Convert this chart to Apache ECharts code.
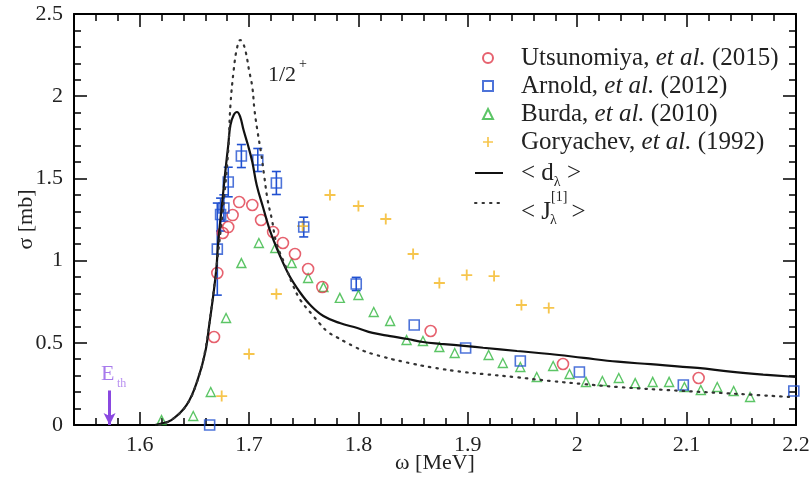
<!DOCTYPE html>
<html>
<head>
<meta charset="utf-8">
<script src="https://cdn.jsdelivr.net/npm/echarts@6/dist/echarts.min.js"></script>
<style>html,body{margin:0;padding:0;background:#fff;}#c{width:811px;height:480px;}</style>
</head>
<body>
<div id="c"></div>
<script>
// ---- data ----
var xTicks = [1.6, 1.7, 1.8, 1.9, 2.0, 2.1, 2.2];
var yTicks = [0, 0.5, 1, 1.5, 2, 2.5];

var utsX = [1.668, 1.671, 1.676, 1.681, 1.685, 1.691, 1.703, 1.711, 1.722, 1.731, 1.742, 1.754, 1.767, 1.866, 1.987, 2.111];
var utsY = [0.535, 0.925, 1.168, 1.204, 1.277, 1.356, 1.338, 1.247, 1.174, 1.107, 1.040, 0.949, 0.839, 0.572, 0.371, 0.286];

var arnX = [1.664, 1.671, 1.674, 1.677, 1.681, 1.693, 1.708, 1.725, 1.750, 1.798, 1.851, 1.898, 1.948, 2.002, 2.097, 2.198];
var arnY = [0.0, 1.07, 1.28, 1.32, 1.478, 1.636, 1.612, 1.472, 1.204, 0.858, 0.608, 0.468, 0.389, 0.322, 0.243, 0.207];
var arnErr = [0.0, 0.28, 0.1, 0.08, 0.09, 0.07, 0.07, 0.07, 0.06, 0.04, 0.0, 0.0, 0.0, 0.0, 0.0, 0.0];

var burX = [1.620, 1.649, 1.665, 1.679, 1.693, 1.709, 1.724, 1.739, 1.754, 1.768, 1.783, 1.800, 1.814, 1.829, 1.844, 1.859, 1.874, 1.888, 1.919, 1.932, 1.948, 1.963, 1.978, 1.993, 2.008, 2.023, 2.038, 2.053, 2.069, 2.084, 2.098, 2.113, 2.128, 2.143, 2.158];
var burY = [0.030, 0.055, 0.201, 0.651, 0.985, 1.107, 1.077, 0.985, 0.894, 0.839, 0.773, 0.791, 0.687, 0.633, 0.517, 0.511, 0.474, 0.438, 0.426, 0.377, 0.353, 0.292, 0.359, 0.310, 0.262, 0.268, 0.286, 0.255, 0.262, 0.262, 0.231, 0.213, 0.231, 0.207, 0.170];

var gorX = [1.675, 1.700, 1.725, 1.749, 1.774, 1.800, 1.825, 1.850, 1.874, 1.899, 1.924, 1.949, 1.974];
var gorY = [0.176, 0.432, 0.797, 1.210, 1.399, 1.332, 1.253, 1.040, 0.864, 0.912, 0.906, 0.730, 0.712];

var dX = [1.614, 1.618, 1.629, 1.643, 1.653, 1.660, 1.664, 1.667, 1.670, 1.672, 1.675, 1.678, 1.681, 1.683, 1.686, 1.689, 1.692, 1.695, 1.699, 1.703, 1.707, 1.713, 1.719, 1.728, 1.737, 1.747, 1.756, 1.768, 1.783, 1.799, 1.813, 1.829, 1.845, 1.859, 1.875, 1.899, 1.914, 1.945, 1.975, 2.006, 2.037, 2.067, 2.110, 2.140, 2.170, 2.200];
var dY = [0.0, 0.006, 0.030, 0.122, 0.274, 0.444, 0.627, 0.773, 0.943, 1.125, 1.320, 1.521, 1.703, 1.825, 1.886, 1.904, 1.873, 1.794, 1.703, 1.600, 1.460, 1.320, 1.186, 1.034, 0.906, 0.803, 0.730, 0.663, 0.620, 0.590, 0.560, 0.541, 0.523, 0.505, 0.494, 0.480, 0.470, 0.450, 0.432, 0.408, 0.385, 0.370, 0.347, 0.325, 0.307, 0.292];

var jX = [1.618, 1.629, 1.643, 1.653, 1.660, 1.666, 1.671, 1.677, 1.681, 1.683, 1.686, 1.689, 1.692, 1.694, 1.697, 1.700, 1.703, 1.705, 1.708, 1.711, 1.714, 1.717, 1.721, 1.725, 1.733, 1.740, 1.747, 1.758, 1.765, 1.772, 1.780, 1.788, 1.797, 1.805, 1.813, 1.823, 1.832, 1.841, 1.850, 1.859, 1.868, 1.877, 1.887, 1.896, 1.914, 1.945, 1.975, 2.006, 2.037, 2.097, 2.147, 2.195];
var jY = [0.0, 0.030, 0.122, 0.274, 0.456, 0.730, 1.004, 1.369, 1.673, 1.946, 2.159, 2.293, 2.342, 2.330, 2.269, 2.159, 2.056, 1.916, 1.776, 1.655, 1.509, 1.369, 1.247, 1.107, 0.973, 0.852, 0.760, 0.669, 0.614, 0.566, 0.535, 0.505, 0.474, 0.450, 0.432, 0.414, 0.398, 0.385, 0.372, 0.360, 0.349, 0.340, 0.330, 0.322, 0.310, 0.290, 0.268, 0.249, 0.231, 0.207, 0.189, 0.170];

var ethX = 1.5725;
var ethArrow = [0.21, 0.0];

var legNames = ['Utsunomiya', 'Arnold', 'Burda', 'Goryachev'];
var legYears = ['(2015)', '(2012)', '(2010)', '(1992)'];

// ---- build ----
function zip(a, b, c) { return a.map(function (v, i) { return c ? [v, b[i], c[i]] : [v, b[i]]; }); }
var FONT = "'Liberation Serif','DejaVu Serif',serif";
var RED = '#e03a4a', BLUE = '#2050d0', GREEN = '#33b640', GOLD = '#f4b620', PURPLE = '#8a48e0';
var plusPath = 'path://M-1,-6H1V-1H6V1H1V6H-1V1H-6V-1H-1Z';

var chart = echarts.init(document.getElementById('c'), null, { renderer: 'canvas' });

function xAx(pos, major) {
  var o = {
    type: 'value', position: pos, min: 1.54, max: 2.2,
    splitLine: { show: false },
    axisLine: { show: major, onZero: false, lineStyle: { color: '#000', width: 2 } },
    axisTick: { show: true, inside: true, length: major ? 13 : 7, lineStyle: { color: '#000', width: 1.5 } },
    axisLabel: { show: major && pos === 'bottom', fontFamily: FONT, fontSize: 22, color: '#222', margin: 9 }
  };
  if (major) { o.axisTick.customValues = xTicks; o.axisLabel.customValues = xTicks; }
  else { o.interval = 0.02; }
  if (major && pos === 'bottom') {
    o.name = 'ω [MeV]'; o.nameLocation = 'middle'; o.nameGap = 27; o.nameMoveOverlap = false;
    o.nameTextStyle = { fontFamily: FONT, fontSize: 22, color: '#222' };
  }
  return o;
}
function yAx(pos) {
  var o = {
    type: 'value', position: pos, min: 0, max: 2.5, interval: 0.5,
    splitLine: { show: false },
    axisLine: { show: true, onZero: false, lineStyle: { color: '#000', width: 2 } },
    axisTick: { show: true, inside: true, length: 13, lineStyle: { color: '#000', width: 1.5 } },
    minorTick: { show: true, splitNumber: 5, length: 7, lineStyle: { color: '#000', width: 1.5 } },
    axisLabel: { show: pos === 'left', fontFamily: FONT, fontSize: 22, color: '#222', margin: 11 }
  };
  if (pos === 'left') {
    o.name = 'σ [mb]'; o.nameLocation = 'middle'; o.nameGap = 37; o.nameMoveOverlap = false;
    o.nameTextStyle = { fontFamily: FONT, fontSize: 22, color: '#222' };
  }
  return o;
}

var LF = 25;
var richBase = {
  n: { fontFamily: FONT, fontSize: LF, color: '#222', lineHeight: LF },
  i: { fontFamily: FONT, fontSize: LF, color: '#222', lineHeight: LF, fontStyle: 'italic' }
};

var option = {
  animation: false,
  backgroundColor: '#fff',
  grid: { left: 74, right: 15, top: 14, bottom: 55, containLabel: false, outerBoundsMode: 'none' },
  xAxis: [xAx('bottom', true), xAx('bottom', false), xAx('top', true), xAx('top', false)],
  yAxis: [yAx('left'), yAx('right')],
  legend: [
    {
      data: legNames, orient: 'vertical', left: 482, top: 45.5, itemWidth: 10, itemHeight: 10, itemGap: 3,
      padding: 0, selectedMode: false,
      formatter: function (name) {
        var k = legNames.indexOf(name);
        return '{n|' + name + ', }{i|et al.}{n| ' + legYears[k] + '}';
      },
      textStyle: { padding: [0, 0, 0, 23], rich: richBase }
    },
    {
      data: ['d'], orient: 'vertical', left: 474, top: 160.5, itemWidth: 28, itemHeight: 10,
      padding: 0, selectedMode: false, itemStyle: { opacity: 0 },
      formatter: function () { return '{n|< d}{s|λ}{n| >}'; },
      textStyle: {
        padding: [0, 0, 0, 13], rich: {
          n: { fontFamily: FONT, fontSize: LF, color: '#222', lineHeight: LF, verticalAlign: 'top' },
          s: { fontFamily: FONT, fontSize: 14, color: '#222', lineHeight: 14, padding: [15, 0, 0, 0], verticalAlign: 'top' }
        }
      }
    },
    {
      data: ['J'], orient: 'vertical', left: 474, top: 190.5, itemWidth: 28, itemHeight: 10,
      padding: 0, selectedMode: false, itemStyle: { opacity: 0 },
      formatter: function () { return '{n|< J}{s|[1]}{n|>}'; },
      textStyle: {
        padding: [0, 0, 0, 13], rich: {
          n: { fontFamily: FONT, fontSize: LF, color: '#222', lineHeight: LF, padding: [9, 0, 0, 0], verticalAlign: 'top' },
          s: { fontFamily: FONT, fontSize: 14, color: '#222', lineHeight: 14, verticalAlign: 'top', padding: [0, 4, 0, 0] }
        }
      }
    }
  ],
  graphic: [
    { type: 'text', left: 268, top: 64, style: { text: '1/2', font: '22px ' + FONT, fill: '#222' } },
    { type: 'text', left: 299, top: 57, style: { text: '+', font: '14px ' + FONT, fill: '#222' } },
    { type: 'text', left: 550, top: 213, style: { text: 'λ', font: '14px ' + FONT, fill: '#222' } },
    { type: 'text', left: 101, top: 363, style: { text: 'E', font: '22px ' + FONT, fill: '#a77aec' } },
    { type: 'text', left: 117, top: 378, style: { text: 'th', font: '12px ' + FONT, fill: '#b890f0' } }
  ],
  series: [
    {
      name: 'Burda', type: 'scatter', data: zip(burX, burY), symbol: 'triangle', symbolSize: 9,
      itemStyle: { color: 'rgba(0,0,0,0)', borderColor: GREEN, borderWidth: 1.4 }
    },
    {
      name: 'Goryachev', type: 'scatter', data: zip(gorX, gorY), symbol: plusPath, symbolSize: 11,
      itemStyle: { color: GOLD }
    },
    {
      name: 'Utsunomiya', type: 'scatter', data: zip(utsX, utsY), symbol: 'circle', symbolSize: 11,
      itemStyle: { color: 'rgba(0,0,0,0)', borderColor: RED, borderWidth: 1.6 }
    },
    {
      name: 'ArnoldErr', type: 'custom', data: zip(arnX, arnY, arnErr),
      renderItem: function (params, api) {
        var x = api.value(0), y = api.value(1), e = api.value(2);
        if (!e) return { type: 'group', children: [] };
        var t = api.coord([x, y + e]), b = api.coord([x, y - e]), w = 4.5;
        var st = { stroke: BLUE, lineWidth: 1.6 };
        return {
          type: 'group', children: [
            { type: 'line', shape: { x1: t[0], y1: t[1], x2: b[0], y2: b[1] }, style: st },
            { type: 'line', shape: { x1: t[0] - w, y1: t[1], x2: t[0] + w, y2: t[1] }, style: st },
            { type: 'line', shape: { x1: b[0] - w, y1: b[1], x2: b[0] + w, y2: b[1] }, style: st }
          ]
        };
      }
    },
    {
      name: 'Arnold', type: 'scatter', data: zip(arnX, arnY), symbol: 'rect', symbolSize: 10,
      itemStyle: { color: 'rgba(0,0,0,0)', borderColor: BLUE, borderWidth: 1.6 }
    },
    {
      name: 'd', type: 'line', data: zip(dX, dY), symbol: 'none', smooth: 0.4,
      lineStyle: { color: '#111', width: 2.2 }, itemStyle: { color: '#111' },
      markLine: {
        silent: true, symbol: ['none', 'arrow'], symbolSize: [9, 12],
        label: { show: false },
        lineStyle: { color: PURPLE, width: 3, type: 'solid' },
        data: [[{ coord: [ethX, ethArrow[0]] }, { coord: [ethX, ethArrow[1]] }]]
      }
    },
    {
      name: 'J', type: 'line', data: zip(jX, jY), symbol: 'none', smooth: 0.4,
      lineStyle: { color: '#333', width: 2.2, type: [1.5, 6], cap: 'round' }, itemStyle: { color: '#333' }
    }
  ]
};
chart.setOption(option);
</script>
</body>
</html>
